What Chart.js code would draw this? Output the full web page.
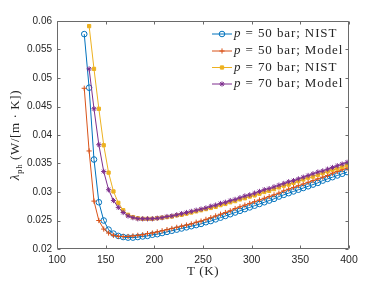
<!DOCTYPE html>
<html lang="en">
<head>
<meta charset="UTF-8">
<title>Phonon thermal conductivity vs T</title>
<script src="https://cdn.jsdelivr.net/npm/chart.js"></script>
<style>
  html, body { margin: 0; padding: 0; background: #fff; }
  canvas { display: block; }
</style>
</head>
<body>
<canvas id="lamChart" width="376" height="282"></canvas>
<script>
// temperature grid (K)
const temp50 = [128, 133, 138, 143, 148, 153, 158, 163, 168, 173, 178, 183, 188, 193, 198, 203, 208, 213, 218, 223,
  228, 233, 238, 243, 248, 253, 258, 263, 268, 273, 278, 283, 288, 293, 298, 303, 308, 313, 318, 323,
  328, 333, 338, 343, 348, 353, 358, 363, 368, 373, 378, 383, 388, 393, 398];
const temp70 = [133, 138, 143, 148, 153, 158, 163, 168, 173, 178, 183, 188, 193, 198, 203, 208, 213, 218, 223,
  228, 233, 238, 243, 248, 253, 258, 263, 268, 273, 278, 283, 288, 293, 298, 303, 308, 313, 318, 323,
  328, 333, 338, 343, 348, 353, 358, 363, 368, 373, 378, 383, 388, 393, 398];

// lambda_ph (W/[m K])
const nist50 = [0.0577, 0.0483, 0.0357, 0.0282, 0.0250, 0.0234, 0.0227, 0.0223, 0.0221,
  0.0220, 0.0220, 0.0221, 0.0222, 0.0223, 0.0225, 0.0226, 0.0228, 0.0230, 0.0232, 0.0234, 0.0236, 0.0238, 0.0240, 0.0242,
  0.0244, 0.0247, 0.0249, 0.0252, 0.0255, 0.0258, 0.0261, 0.0264, 0.0267, 0.0270,
  0.0273, 0.0276, 0.0279, 0.0282, 0.0285, 0.0288, 0.0292, 0.0295, 0.0298, 0.0301,
  0.0304, 0.0307, 0.0310, 0.0313, 0.0316, 0.0320, 0.0323, 0.0326, 0.0329, 0.0332, 0.0335];
const model50 = [0.0482, 0.0372, 0.0284, 0.0250, 0.0235, 0.0228, 0.0224, 0.0222, 0.0222,
  0.0222, 0.0223, 0.0224, 0.0225, 0.0227, 0.0228, 0.0230, 0.0232, 0.0234, 0.0236, 0.0238, 0.0240, 0.0242, 0.0244, 0.0247,
  0.0249, 0.0252, 0.0255, 0.0258, 0.0261, 0.0264, 0.0267, 0.0271, 0.0274, 0.0277,
  0.0280, 0.0283, 0.0286, 0.0289, 0.0292, 0.0295, 0.0298, 0.0302, 0.0305, 0.0308,
  0.0311, 0.0314, 0.0317, 0.0320, 0.0323, 0.0326, 0.0329, 0.0333, 0.0336, 0.0339, 0.0342];
const nist70 = [0.0591, 0.0516, 0.0446, 0.0382, 0.0334, 0.0301, 0.0281, 0.0268,
  0.0260, 0.0256, 0.0254, 0.0253, 0.0253, 0.0253, 0.0254, 0.0255, 0.0256, 0.0257, 0.0259, 0.0260, 0.0262, 0.0264, 0.0266,
  0.0268, 0.0270, 0.0272, 0.0274, 0.0277, 0.0279, 0.0282, 0.0284, 0.0287, 0.0289,
  0.0292, 0.0294, 0.0297, 0.0300, 0.0302, 0.0305, 0.0308, 0.0311, 0.0313, 0.0316,
  0.0319, 0.0322, 0.0325, 0.0327, 0.0330, 0.0333, 0.0336, 0.0339, 0.0341, 0.0344, 0.0347];
const model70 = [0.0516, 0.0446, 0.0383, 0.0336, 0.0304, 0.0285, 0.0273, 0.0264,
  0.0258, 0.0255, 0.0253, 0.0253, 0.0253, 0.0253, 0.0254, 0.0255, 0.0257, 0.0258, 0.0260, 0.0262, 0.0264, 0.0266, 0.0268,
  0.0270, 0.0272, 0.0275, 0.0277, 0.0280, 0.0282, 0.0285, 0.0287, 0.0290, 0.0293,
  0.0295, 0.0298, 0.0301, 0.0304, 0.0306, 0.0309, 0.0312, 0.0315, 0.0318, 0.0320,
  0.0323, 0.0326, 0.0329, 0.0332, 0.0335, 0.0337, 0.0340, 0.0343, 0.0346, 0.0349, 0.0352];

const legendText = [' = 50 bar; NIST', ' = 50 bar; Model', ' = 70 bar; NIST', ' = 70 bar; Model'];
const xTicks = [100, 150, 200, 250, 300, 350, 400];
const yTicks = [0.02, 0.025, 0.03, 0.035, 0.04, 0.045, 0.05, 0.055, 0.06];

const INK = '#262626';
const SERIF = '"Liberation Serif", "DejaVu Serif", serif';

function pts(xs, ys) {
  return xs.map((t, i) => ({ x: t, y: ys[i] }));
}

function series(xs, ys, color, style, fill, r, order) {
  return {
    data: pts(xs, ys),
    showLine: true,
    borderColor: color,
    borderWidth: 1,
    pointStyle: style,
    pointRadius: r,
    pointBorderColor: color,
    pointBackgroundColor: fill,
    pointBorderWidth: 1,
    order: order
  };
}

// frame with inward ticks, axis titles and legend, MATLAB style
const decor = {
  id: 'decor',
  afterDraw(chart) {
    const { ctx, chartArea: a, scales: { x, y } } = chart;
    const L = Math.round(a.left) + 0.5, R = Math.round(a.right) - 0.5;
    const T = Math.round(a.top) + 0.5, B = Math.round(a.bottom) - 0.5;
    ctx.save();
    ctx.strokeStyle = '#6a6a6a';
    ctx.lineWidth = 1;
    ctx.beginPath();
    ctx.moveTo(L, T); ctx.lineTo(R, T); ctx.lineTo(R, B); ctx.lineTo(L, B); ctx.closePath();
    xTicks.forEach(v => {
      const px = Math.round(x.getPixelForValue(v)) + 0.5;
      ctx.moveTo(px, B); ctx.lineTo(px, B - 3);
      ctx.moveTo(px, T); ctx.lineTo(px, T + 3);
    });
    yTicks.forEach(v => {
      const py = Math.round(y.getPixelForValue(v)) + 0.5;
      ctx.moveTo(L, py); ctx.lineTo(L + 3, py);
      ctx.moveTo(R, py); ctx.lineTo(R - 3, py);
    });
    ctx.stroke();

    // x title
    ctx.fillStyle = INK;
    ctx.font = '13px ' + SERIF;
    ctx.letterSpacing = '0.6px';
    ctx.textAlign = 'center';
    ctx.textBaseline = 'middle';
    ctx.fillText('T (K)', (a.left + a.right) / 2, 272);

    // y title with subscript
    ctx.save();
    ctx.translate(15, (a.top + a.bottom) / 2);
    ctx.rotate(-Math.PI / 2);
    ctx.textAlign = 'left';
    ctx.textBaseline = 'alphabetic';
    const f1 = 'italic 13px ' + SERIF, f2 = '9px ' + SERIF, f3 = '13px ' + SERIF;
    const tail = ' (W/[m \u00b7 K])';
    ctx.font = f1; const w1 = ctx.measureText('\u03bb').width;
    ctx.font = f2; const w2 = ctx.measureText('ph').width;
    ctx.font = f3; const w3 = ctx.measureText(tail).width;
    let sx = -(w1 + w2 + w3) / 2;
    ctx.font = f1; ctx.fillText('\u03bb', sx, 4); sx += w1;
    ctx.font = f2; ctx.fillText('ph', sx, 7); sx += w2;
    ctx.font = f3; ctx.fillText(tail, sx, 4);
    ctx.restore();

    // legend
    const rowY = [34, 51, 67.5, 84];
    chart.data.datasets.forEach((ds, i) => {
      const yy = rowY[i];
      ctx.letterSpacing = '0px';
      ctx.strokeStyle = ds.borderColor;
      ctx.lineWidth = 1;
      ctx.beginPath();
      ctx.moveTo(212, yy); ctx.lineTo(232, yy);
      ctx.stroke();
      ctx.fillStyle = ds.pointBackgroundColor;
      Chart.helpers.drawPoint(ctx, { pointStyle: ds.pointStyle, radius: ds.pointRadius, borderWidth: 1, rotation: 0 }, 222, yy);
      ctx.fillStyle = INK;
      ctx.textAlign = 'left';
      ctx.textBaseline = 'middle';
      ctx.letterSpacing = '0.9px';
      ctx.font = 'italic 13px ' + SERIF;
      ctx.fillText('p', 234, yy);
      const wp = ctx.measureText('p').width;
      ctx.font = '13px ' + SERIF;
      ctx.fillText(legendText[i], 234 + wp, yy);
    });
    ctx.restore();
  }
};

const ctx = document.getElementById('lamChart').getContext('2d');
new Chart(ctx, {
  type: 'scatter',
  data: {
    datasets: [
      series(temp50, nist50, '#0072BD', 'circle', 'rgba(0,0,0,0)', 2.8, 3),
      series(temp50, model50, '#D95319', 'cross', '#D95319', 2.6, 2),
      series(temp70, nist70, '#EDB120', 'rect', '#EDB120', 2.3, 1),
      series(temp70, model70, '#7E2F8E', 'star', '#7E2F8E', 2.6, 0)
    ]
  },
  options: {
    responsive: false,
    animation: false,
    devicePixelRatio: 1,
    layout: { padding: { left: 0, right: 27, top: 21, bottom: 0 } },
    plugins: { legend: { display: false }, tooltip: { enabled: false } },
    scales: {
      x: {
        type: 'linear', min: 100, max: 400,
        afterBuildTicks: s => { s.ticks = xTicks.map(v => ({ value: v })); },
        afterFit: s => { s.height = 33; },
        grid: { display: false, drawTicks: false },
        border: { display: false },
        ticks: { color: INK, padding: 5, maxRotation: 0, font: { family: '"Liberation Sans", Arial, sans-serif', size: 10.5 } }
      },
      y: {
        type: 'linear', min: 0.02, max: 0.06,
        afterBuildTicks: s => { s.ticks = yTicks.map(v => ({ value: v })); },
        afterFit: s => { s.width = 57; },
        grid: { display: false, drawTicks: false },
        border: { display: false },
        ticks: { color: INK, padding: 5, font: { family: '"Liberation Sans", Arial, sans-serif', size: 10 },
          callback: v => String(+v.toFixed(3)) }
      }
    }
  },
  plugins: [decor]
});
</script>
</body>
</html>
